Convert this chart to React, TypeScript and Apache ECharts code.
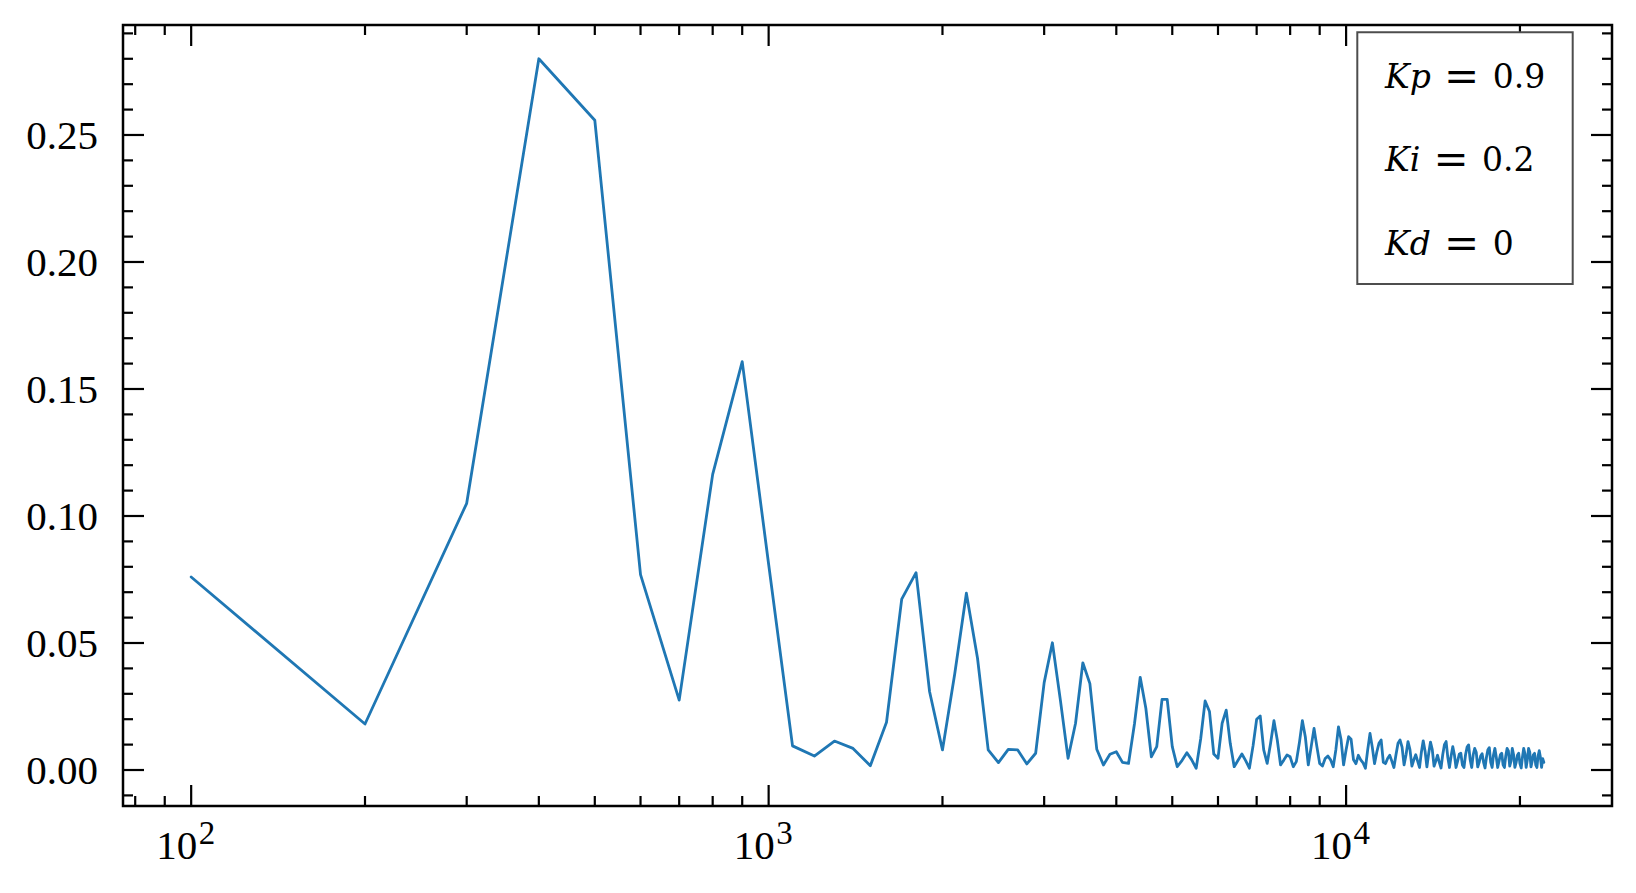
import React, { useEffect, useRef } from "react";
import * as echarts from "echarts";

// Frequency bins (Hz)
const FREQS = [
  100, 200, 300, 400, 500, 600, 700, 800, 900, 1000,
  1100, 1200, 1300, 1400, 1500, 1600, 1700, 1800, 1900, 2000,
  2100, 2200, 2300, 2400, 2500, 2600, 2700, 2800, 2900, 3000,
  3100, 3200, 3300, 3400, 3500, 3600, 3700, 3800, 3900, 4000,
  4100, 4200, 4300, 4400, 4500, 4600, 4700, 4800, 4900, 5000,
  5100, 5200, 5300, 5400, 5500, 5600, 5700, 5800, 5900, 6000,
  6100, 6200, 6300, 6400, 6500, 6600, 6700, 6800, 6900, 7000,
  7100, 7200, 7300, 7400, 7500, 7600, 7700, 7800, 7900, 8000,
  8100, 8200, 8300, 8400, 8500, 8600, 8700, 8800, 8900, 9000,
  9100, 9200, 9300, 9400, 9500, 9600, 9700, 9800, 9900, 10000,
  10100, 10200, 10300, 10400, 10500, 10600, 10700, 10800, 10900, 11000,
  11100, 11200, 11300, 11400, 11500, 11600, 11700, 11800, 11900, 12000,
  12100, 12200, 12300, 12400, 12500, 12600, 12700, 12800, 12900, 13000,
  13100, 13200, 13300, 13400, 13500, 13600, 13700, 13800, 13900, 14000,
  14100, 14200, 14300, 14400, 14500, 14600, 14700, 14800, 14900, 15000,
  15100, 15200, 15300, 15400, 15500, 15600, 15700, 15800, 15900, 16000,
  16100, 16200, 16300, 16400, 16500, 16600, 16700, 16800, 16900, 17000,
  17100, 17200, 17300, 17400, 17500, 17600, 17700, 17800, 17900, 18000,
  18100, 18200, 18300, 18400, 18500, 18600, 18700, 18800, 18900, 19000,
  19100, 19200, 19300, 19400, 19500, 19600, 19700, 19800, 19900, 20000,
  20100, 20200, 20300, 20400, 20500, 20600, 20700, 20800, 20900, 21000,
  21100, 21200, 21300, 21400, 21500, 21600, 21700, 21800, 21900, 22000,
];

// Spectrum magnitude
const AMPS = [
  0.0760, 0.0181, 0.1050, 0.2800, 0.2558, 0.0769, 0.0275, 0.1164, 0.1608, 0.0810,
  0.0095, 0.0055, 0.0114, 0.0085, 0.0017, 0.0188, 0.0673, 0.0777, 0.0308, 0.0079,
  0.0378, 0.0696, 0.0440, 0.0079, 0.0029, 0.0081, 0.0079, 0.0024, 0.0066, 0.0344,
  0.0501, 0.0276, 0.0046, 0.0184, 0.0422, 0.0340, 0.0082, 0.0020, 0.0062, 0.0072,
  0.0030, 0.0026, 0.0181, 0.0365, 0.0243, 0.0052, 0.0092, 0.0278, 0.0278, 0.0092,
  0.0013, 0.0038, 0.0068, 0.0041, 0.0007, 0.0123, 0.0272, 0.0230, 0.0063, 0.0046,
  0.0184, 0.0236, 0.0105, 0.0013, 0.0038, 0.0063, 0.0037, 0.0007, 0.0095, 0.0200,
  0.0213, 0.0079, 0.0026, 0.0105, 0.0194, 0.0118, 0.0020, 0.0039, 0.0059, 0.0052,
  0.0013, 0.0033, 0.0107, 0.0194, 0.0130, 0.0020, 0.0092, 0.0164, 0.0092, 0.0026,
  0.0016, 0.0045, 0.0055, 0.0040, 0.0013, 0.0080, 0.0170, 0.0120, 0.0020, 0.0080,
  0.0131, 0.0121, 0.0040, 0.0025, 0.0058, 0.0040, 0.0028, 0.0007, 0.0080, 0.0144,
  0.0090, 0.0025, 0.0070, 0.0105, 0.0118, 0.0030, 0.0025, 0.0045, 0.0058, 0.0035,
  0.0010, 0.0060, 0.0105, 0.0118, 0.0090, 0.0020, 0.0060, 0.0112, 0.0080, 0.0015,
  0.0040, 0.0060, 0.0035, 0.0010, 0.0070, 0.0115, 0.0075, 0.0012, 0.0065, 0.0110,
  0.0080, 0.0015, 0.0035, 0.0058, 0.0030, 0.0008, 0.0060, 0.0100, 0.0112, 0.0050,
  0.0010, 0.0055, 0.0092, 0.0060, 0.0010, 0.0035, 0.0062, 0.0066, 0.0020, 0.0010,
  0.0060, 0.0090, 0.0099, 0.0040, 0.0010, 0.0060, 0.0085, 0.0070, 0.0012, 0.0030,
  0.0055, 0.0064, 0.0030, 0.0008, 0.0050, 0.0080, 0.0088, 0.0030, 0.0010, 0.0060,
  0.0085, 0.0050, 0.0010, 0.0035, 0.0060, 0.0066, 0.0020, 0.0010, 0.0055, 0.0085,
  0.0075, 0.0015, 0.0035, 0.0085, 0.0060, 0.0010, 0.0030, 0.0058, 0.0066, 0.0025,
  0.0008, 0.0050, 0.0085, 0.0065, 0.0010, 0.0040, 0.0085, 0.0070, 0.0012, 0.0035,
  0.0060, 0.0066, 0.0020, 0.0010, 0.0055, 0.0076, 0.0050, 0.0010, 0.0045, 0.0030,
];

const X_MAJOR = [100, 1000, 10000];
const X_EXP = ["2", "3", "4"];
const X_MINOR = [
  80, 90, 200, 300, 400, 500, 600, 700, 800, 900,
  2000, 3000, 4000, 5000, 6000, 7000, 8000, 9000, 20000,
];
const Y_MAJOR = [0, 0.05, 0.1, 0.15, 0.2, 0.25];
const Y_LABELS = ["0.00", "0.05", "0.10", "0.15", "0.20", "0.25"];
const Y_MINOR = [
  -0.01, 0.01, 0.02, 0.03, 0.04, 0.06, 0.07, 0.08, 0.09, 0.11, 0.12, 0.13, 0.14,
  0.16, 0.17, 0.18, 0.19, 0.21, 0.22, 0.23, 0.24, 0.26, 0.27, 0.28, 0.29,
];
const LEGEND_NAMES = ["Kp", "Ki", "Kd"];
const LEGEND_VALUES = ["0.9", "0.2", "0"];

const SERIF = "'Liberation Serif', 'Times New Roman', serif";
const MATH = "'DejaVu Serif', serif";

export default function App() {
  const ref = useRef<HTMLDivElement>(null);

  useEffect(() => {
    document.body.style.margin = "0";
    const chart = echarts.init(ref.current!, null, { renderer: "svg" });
    const L = 123;
    const T = 25;
    const R = 1612;
    const B = 806;

    chart.setOption({
      animation: false,
      grid: {
        left: L,
        top: T,
        width: R - L,
        height: B - T,
        show: true,
        borderColor: "#000",
        borderWidth: 2.5,
        backgroundColor: "transparent",
      },
      xAxis: {
        type: "log",
        logBase: 10,
        min: 76.2,
        max: 28870,
        axisLine: { show: false },
        axisTick: { show: false },
        axisLabel: { show: false },
        splitLine: { show: false },
        minorTick: { show: false },
        minorSplitLine: { show: false },
      },
      yAxis: {
        type: "value",
        min: -0.01417,
        max: 0.2933,
        axisLine: { show: false },
        axisTick: { show: false },
        axisLabel: { show: false },
        splitLine: { show: false },
        minorTick: { show: false },
        minorSplitLine: { show: false },
      },
      series: [
        {
          type: "line",
          data: FREQS.map((f, i) => [f, AMPS[i]]),
          showSymbol: false,
          symbol: "none",
          clip: true,
          lineStyle: { color: "#1f77b4", width: 2.8, join: "round", cap: "round" },
          z: 3,
        },
      ],
    });

    const px = (v: number) => chart.convertToPixel({ xAxisIndex: 0 }, v) as number;
    const py = (v: number) => chart.convertToPixel({ yAxisIndex: 0 }, v) as number;

    const els: any[] = [];
    const tick = (x1: number, y1: number, x2: number, y2: number) =>
      els.push({
        type: "line",
        silent: true,
        z: 10,
        shape: { x1, y1, x2, y2 },
        style: { stroke: "#000", lineWidth: 2.2 },
      });
    const MAJ = 21;
    const MIN = 10;
    X_MAJOR.forEach((v) => {
      const x = px(v);
      tick(x, B, x, B - MAJ);
      tick(x, T, x, T + MAJ);
    });
    X_MINOR.forEach((v) => {
      const x = px(v);
      tick(x, B, x, B - MIN);
      tick(x, T, x, T + MIN);
    });
    Y_MAJOR.forEach((v) => {
      const y = py(v);
      tick(L, y, L + MAJ, y);
      tick(R, y, R - MAJ, y);
    });
    Y_MINOR.forEach((v) => {
      const y = py(v);
      tick(L, y, L + MIN, y);
      tick(R, y, R - MIN, y);
    });

    // y tick labels
    Y_MAJOR.forEach((v, i) => {
      els.push({
        type: "text",
        silent: true,
        z: 10,
        x: 98,
        y: py(v),
        style: {
          text: Y_LABELS[i],
          fontFamily: SERIF,
          fontSize: 41,
          fill: "#000",
          align: "right",
          verticalAlign: "middle",
          textAlign: "right",
          textVerticalAlign: "middle",
        },
      });
    });

    // x tick labels 10^n
    X_MAJOR.forEach((v, i) => {
      const x = px(v);
      els.push({
        type: "text",
        silent: true,
        z: 10,
        x: x + 6,
        y: 845,
        style: {
          text: "10",
          fontFamily: SERIF,
          fontSize: 41,
          fill: "#000",
          align: "right",
          verticalAlign: "middle",
          textAlign: "right",
          textVerticalAlign: "middle",
        },
      });
      els.push({
        type: "text",
        silent: true,
        z: 10,
        x: x + 7.5,
        y: 833,
        style: {
          text: X_EXP[i],
          fontFamily: SERIF,
          fontSize: 33,
          fill: "#000",
          align: "left",
          verticalAlign: "middle",
          textAlign: "left",
          textVerticalAlign: "middle",
        },
      });
    });

    // legend box
    els.push({
      type: "rect",
      silent: true,
      z: 20,
      shape: { x: 1357.3, y: 32.3, width: 215.4, height: 251.7 },
      style: { fill: "#fff", stroke: "#4d4d4d", lineWidth: 2 },
    });
    const legendY = [76.5, 159, 243];
    LEGEND_NAMES.forEach((name, i) => {
      els.push({
        type: "text",
        silent: true,
        z: 21,
        x: 1385,
        y: legendY[i],
        style: {
          text: `{i|${name}}{e| = }{n|${LEGEND_VALUES[i]}}`,
          fontFamily: MATH,
          fontSize: 33,
          fill: "#000",
          align: "left",
          verticalAlign: "middle",
          textAlign: "left",
          textVerticalAlign: "middle",
          rich: {
            i: { fontFamily: MATH, fontSize: 33, fontStyle: "italic", fill: "#000" },
            e: { fontFamily: MATH, fontSize: 42, fill: "#000" },
            n: { fontFamily: MATH, fontSize: 33, fill: "#000" },
          },
        },
      });
    });

    chart.setOption({ graphic: { elements: els } });

    return () => {
      chart.dispose();
    };
  }, []);

  return <div ref={ref} style={{ width: 1636, height: 893 }} />;
}
